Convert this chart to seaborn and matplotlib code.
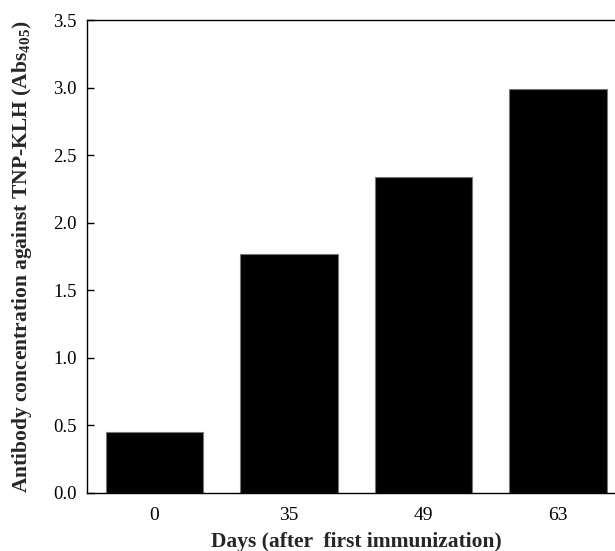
import pandas as pd
import seaborn as sns
import matplotlib.pyplot as plt

days = ['0', '35', '49', '63']
absorbance = [0.45, 1.77, 2.34, 2.99]

df = pd.DataFrame({'Days': days, 'Abs': absorbance})

sns.set_style('ticks')
plt.rcParams['font.family'] = ['Liberation Serif', 'DejaVu Serif']
plt.rcParams['mathtext.fontset'] = 'custom'
plt.rcParams['mathtext.rm'] = 'Liberation Serif'
plt.rcParams['mathtext.bf'] = 'Liberation Serif:bold'

fig = plt.figure(figsize=(6.15, 5.51), dpi=100)
ax = fig.add_axes([0.141, 0.1053, 0.876, 0.8584])

sns.barplot(data=df, x='Days', y='Abs', color='black', width=0.725,
            edgecolor='#777777', linewidth=0.8, saturation=1, ax=ax)

ax.set_xlim(-0.504, 3.5)
ax.set_ylim(0, 3.5)
ax.set_yticks([0.0, 0.5, 1.0, 1.5, 2.0, 2.5, 3.0, 3.5])
ax.set_yticklabels(['0.0', '0.5', '1.0', '1.5', '2.0', '2.5', '3.0', '3.5'])

ax.tick_params(axis='y', direction='in', length=5, width=1, pad=7,
               labelsize=13.5, colors='black')
ax.tick_params(axis='x', length=0, pad=10, labelsize=14, colors='black')

for side in ['left', 'bottom', 'top', 'right']:
    ax.spines[side].set_visible(True)
    ax.spines[side].set_color('black')
    ax.spines[side].set_linewidth(1.0)

ax.set_xlabel('Days (after  first immunization)', fontsize=15.5,
              fontweight='bold', labelpad=6)
ax.set_ylabel(r'Antibody concentration against TNP-KLH (Abs$_{\mathbf{405}}$)',
              fontsize=15.5, fontweight='bold', labelpad=14)

plt.savefig('out.png', dpi=100)
